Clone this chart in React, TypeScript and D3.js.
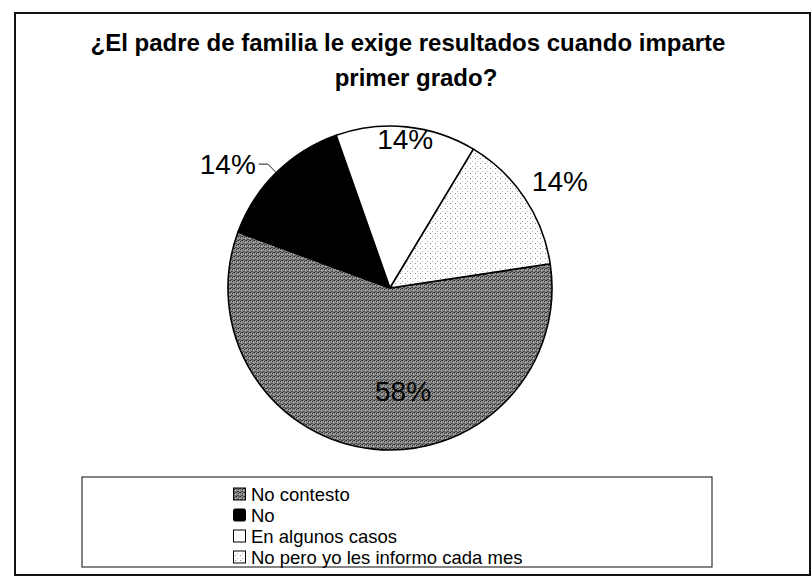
import * as d3 from 'd3';

const categories = ['No contesto', 'No', 'En algunos casos', 'No pero yo les informo cada mes'];
const values = [58, 14, 14, 14];
const valueLabels = ['58%', '14%', '14%', '14%'];
const titleLines = ['¿El padre de familia le exige resultados cuando imparte', 'primer grado?'];

const W = 812;
const H = 582;
const cx = 390;
const cy = 288;
const R = 162;
const startDeg = 81.4;
const fills = ['url(#pGray)', '#000', '#fff', 'url(#pDots)'];
// where each percentage sits: distance from centre, turn (deg) away from slice middle
const labelPlace = [
  { r: 104, shift: -13 },
  { r: 174, shift: 0 },
  { r: 150, shift: 0 },
  { r: 201, shift: 1.5 },
];
const font = '"Liberation Sans", Arial, Helvetica, sans-serif';

const polar = (r: number, a: number) => [Math.sin(a) * r, -Math.cos(a) * r];

export default function App() {
  const start = (startDeg * Math.PI) / 180;
  const pie = d3.pie<number>().sort(null).startAngle(start).endAngle(start + 2 * Math.PI);
  const arcs = pie(values);
  const arc = d3.arc<d3.PieArcDatum<number>>().innerRadius(0).outerRadius(R);

  const legendY = d3.scalePoint<string>().domain(categories).range([494, 557]);

  return (
    <svg width={W} height={H} style={{ position: 'absolute', left: 0, top: 0, background: '#fff' }}>
      <defs>
        {/* scanned halftone look */}
        <pattern id="pGray" width={4} height={4} patternUnits="userSpaceOnUse">
          <rect width={4} height={4} fill="#858585" />
          <rect x={0} y={0} width={1} height={1} fill="#222" />
          <rect x={2} y={1} width={1} height={1} fill="#333" />
          <rect x={1} y={3} width={1} height={1} fill="#444" />
          <rect x={3} y={2} width={1} height={1} fill="#b8b8b8" />
          <rect x={2} y={3} width={1} height={1} fill="#4e4e4e" />
          <rect x={1} y={1} width={1} height={1} fill="#aaa" />
          <rect x={3} y={0} width={1} height={1} fill="#555" />
        </pattern>
        <pattern id="pDots" width={5} height={5} patternUnits="userSpaceOnUse">
          <rect width={5} height={5} fill="#fff" />
          <rect x={0} y={0} width={1} height={1} fill="#8a8a8a" />
          <rect x={2} y={3} width={1} height={1} fill="#b5b5b5" />
        </pattern>
      </defs>

      <rect x={15} y={13} width={795} height={562} fill="none" stroke="#111" strokeWidth={2} />

      <g fontFamily={font} fontWeight="bold" fontSize={24} textAnchor="middle" fill="#000">
        {titleLines.map((t, i) => (
          <text key={t} x={408 + i * 8} y={51 + i * 35}>
            {t}
          </text>
        ))}
      </g>

      <g transform={`translate(${cx},${cy})`}>
        {arcs.map((a, i) => (
          <path key={categories[i]} d={arc(a) || ''} fill={fills[i]} stroke="#000" strokeWidth={1.6} strokeLinejoin="round" />
        ))}
        {arcs.map((a, i) => {
          const mid = (a.startAngle + a.endAngle) / 2 + (labelPlace[i].shift * Math.PI) / 180;
          if (i === 1) {
            // outside label with a small leader line
            const [ex, ey] = polar(R, mid);
            const [bx, by] = polar(labelPlace[i].r, mid);
            return (
              <g key={'l' + i}>
                <polyline points={`${ex},${ey} ${bx},${by} ${bx - 9},${by}`} fill="none" stroke="#222" strokeWidth={1} />
                <text x={bx - 12} y={by + 10} textAnchor="end" fontFamily={font} fontSize={28} fill="#000">
                  {valueLabels[i]}
                </text>
              </g>
            );
          }
          const [lx, ly] = polar(labelPlace[i].r, mid);
          return (
            <text key={'l' + i} x={lx} y={ly + 10} textAnchor="middle" fontFamily={font} fontSize={28} fill="#000">
              {valueLabels[i]}
            </text>
          );
        })}
      </g>

      <rect x={82} y={477} width={630} height={90} fill="#fff" stroke="#333" strokeWidth={1.2} />
      <g fontFamily={font} fontSize={18.5} fill="#000">
        {categories.map((c, i) => {
          const y = legendY(c) || 0;
          return (
            <g key={c}>
              <rect x={233.5} y={y - 6} width={12} height={12} rx={i === 1 ? 1.5 : 0} fill={fills[i]} stroke="#000" strokeWidth={1} />
              <text x={251} y={y + 6.5}>
                {c}
              </text>
            </g>
          );
        })}
      </g>
    </svg>
  );
}
